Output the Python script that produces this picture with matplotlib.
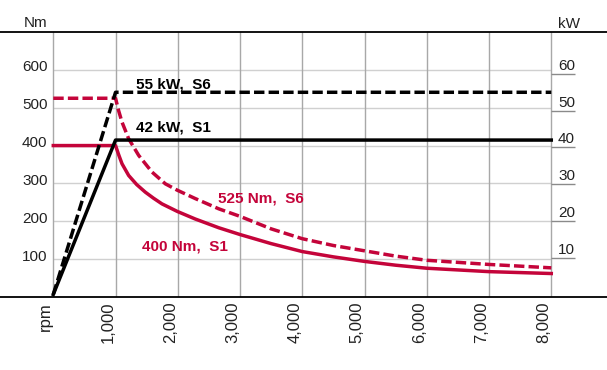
import matplotlib.pyplot as plt

# speed axis (rpm)
rpm_ticks = [0, 1000, 2000, 3000, 4000, 5000, 6000, 7000, 8000]
rpm_labels = ["rpm", "1,000", "2,000", "3,000", "4,000", "5,000", "6,000", "7,000", "8,000"]
nm_ticks = [100, 200, 300, 400, 500, 600]
kw_ticks = [10, 20, 30, 40, 50, 60]

# torque curves (Nm)
s1_torque_rpm = [0, 1000, 1050, 1104, 1211, 1340, 1478, 1610, 1746, 1993, 2281, 2657, 3000,
                 3500, 4000, 4500, 5000, 5500, 6000, 7000, 8000]
s1_torque = [400, 400, 376, 352, 321, 297, 277, 261, 246, 226, 206, 183, 165,
             141, 120, 106, 94, 84, 76, 67, 62]
s6_torque_rpm = [0, 1000, 1050, 1104, 1211, 1372, 1586, 1800, 1993, 2281, 2657, 3000,
                 3500, 4000, 4500, 5000, 5500, 6000, 7000, 8000]
s6_torque = [525, 525, 492, 462, 418, 374, 330, 299, 282, 260, 233, 213,
             180, 154, 136, 122, 108, 97, 86, 77]

# power curves (kW)
power_rpm = [0, 1000, 8000]
s1_power = [0, 42, 42]
s6_power = [0, 55, 55]

red = "#c4043a"
plt.rcParams["font.family"] = ["Liberation Sans", "DejaVu Sans"]

fig = plt.figure(figsize=(6.07, 3.70), dpi=100)
ax = fig.add_axes([0, 0.1973, 1, 0.7162])
ax.set_xlim(-856, 8895)
ax.set_ylim(0, 700)

for s in ["left", "right"]:
    ax.spines[s].set_visible(False)
for s in ["top", "bottom"]:
    ax.spines[s].set_linewidth(1.3)

# grid
ax.set_xticks(rpm_ticks)
ax.set_xticklabels(rpm_labels, rotation=90, ha="right", fontsize=12, color="#222222")
ax.tick_params(axis="x", length=0, pad=3.5)
ax.set_yticks([])
ax.grid(axis="x", color="#a8a8a8", lw=1)
ax.hlines(nm_ticks, 0, 8000, color="#d0d0d0", lw=1, zorder=0)
for v in nm_ticks:
    ax.text(-93, v - 4, str(v), ha="right", va="baseline", fontsize=11, color="#222222")
ax.text(-93, 706, "Nm", ha="right", va="bottom", fontsize=11, color="#222222", clip_on=False)

# torque
ax.plot(s1_torque_rpm, s1_torque, color=red, lw=2.5, zorder=3)
ax.plot(s6_torque_rpm, s6_torque, color=red, lw=2.5, dashes=(3.0, 1.2), zorder=3)

# power on second axis
ax2 = ax.twinx()
ax2.set_ylim(-0.7, 71.4)
ax2.set_yticks([])
for s in ax2.spines.values():
    s.set_visible(False)
ax2.plot(power_rpm, s1_power, color="black", lw=2.5, zorder=4)
ax2.plot(power_rpm, s6_power, color="black", lw=2.5, dashes=(3.0, 1.2), zorder=4)
ax2.hlines(kw_ticks, 8000, 8385, color="#8a8a8a", lw=1)
for v in kw_ticks:
    ax2.text(8108, v + 0.3, str(v), ha="left", va="bottom", fontsize=11, color="#222222")
ax2.text(8108, 71.8, "kW", ha="left", va="bottom", fontsize=11, color="#222222", clip_on=False)

# curve labels
lab = dict(ha="center", va="center", fontsize=11, fontweight="bold", zorder=5)
ax.text(1923, 562, "55 kW,  S6", **lab)
ax.text(1923, 449, "42 kW,  S1", **lab)
ax.text(3332, 261, "525 Nm,  S6", color=red, **lab)
ax.text(2116, 133, "400 Nm,  S1", color=red, **lab)

fig.savefig("out.png", dpi=100)
